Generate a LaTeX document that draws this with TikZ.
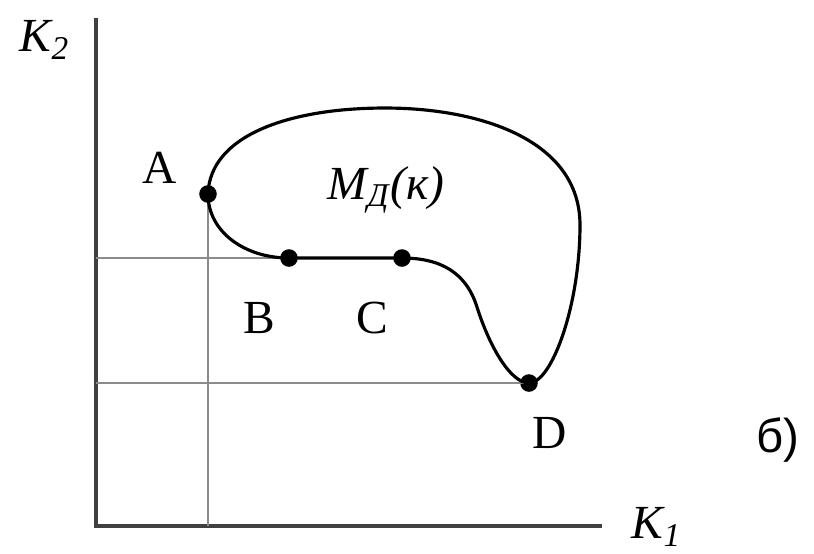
\documentclass[tikz,border=0pt]{standalone}
\usepackage{fontspec}
\setmainfont{Liberation Serif}
\newfontfamily\lettersans{Liberation Sans}
\usetikzlibrary{positioning,calc}

\begin{document}
\begin{tikzpicture}[
		x=0.01cm,y=-0.01cm,
		font=\fontsize{13.5}{16}\selectfont,
		axis/.style={line width=1pt,black!75},
		guide/.style={line width=0.35pt,black!45},
		bound/.style={line width=0.9pt},
		dot/.style={circle,fill,inner sep=0pt,minimum size=5pt},
		lbl/.style={inner sep=0pt}
		]
		\useasboundingbox (0,0) rectangle (814,553);

		% axes
		\coordinate (O) at (96,526);
		\coordinate (ytop) at (96,18);
		\coordinate (xend) at (602,526);
		\draw[axis] (ytop) -- (O) -- (xend);

		% points on the boundary
		\node[dot] (A) at (208,194) {};
		\node[dot] (B) at (289,258) {};
		\node[dot] (C) at (402,258) {};
		\node[dot] (D) at (529,383) {};

		% projections on the axes
		\draw[guide] (A.center) -- (A.center |- O);
		\draw[guide] (O |- B.center) -- (B.center);
		\draw[guide] (O |- D.center) -- (D.center);

		% region boundary
		\draw[bound] (A.center)
			.. controls (210,135) and (290,108) .. (385,108)
			.. controls (480,108) and (580,140) .. (580,225)
			.. controls (580,305) and (552,383) .. (D.center)
			.. controls (510,383) and (489,345) .. (477,307)
			.. controls (466,272) and (440,258) .. (C.center)
			-- (B.center)
			.. controls (245,258) and (208,232) .. (A.center);

		% labels
		\node[lbl] (k2) at (45,40) {\textit{K\textsubscript{2}}};
		\node[lbl] (k1) at (657,527) {\textit{K\textsubscript{1}}};
		\node[lbl] (la) at (160,168) {A};
		\node[lbl] (lb) at (259,318) {B};
		\node[lbl] (lc) at (372,318) {C};
		\node[lbl] (ld) at (550,433) {D};
		\node[lbl] (md) at (386,190) {\textit{M\textsubscript{Д}(к)}};
		\node[lbl] (part) at (778,440) {\lettersans б)};

	\end{tikzpicture}
\end{document}
